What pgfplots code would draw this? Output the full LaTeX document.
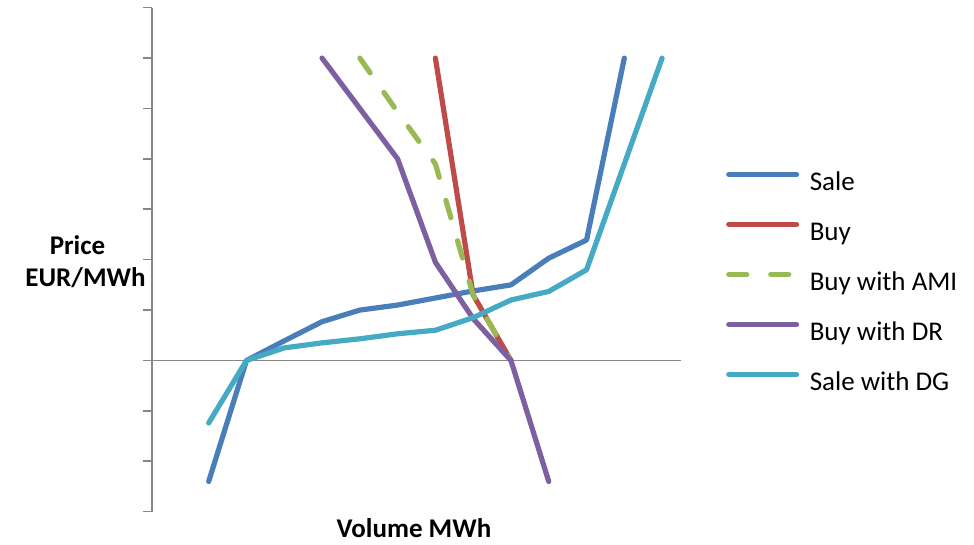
\documentclass[border=0pt]{standalone}
\usepackage{pgfplots}
\pgfplotsset{compat=1.18}
\usepackage{fontspec}
\setmainfont{Carlito}

\definecolor{axgray}{HTML}{878787}
\definecolor{cSale}{HTML}{4A7EBB}
\definecolor{cBuy}{HTML}{BE4B48}
\definecolor{cAMI}{HTML}{98B954}
\definecolor{cDR}{HTML}{7D60A0}
\definecolor{cDG}{HTML}{46AAC5}

\begin{document}
\begin{tikzpicture}
\path[use as bounding box] (0,0) rectangle (487pt,272.5pt);

\begin{axis}[
  at={(76pt,16.65pt)}, anchor=south west,
  scale only axis, width=264.5pt, height=252pt,
  xmin=-0.5, xmax=13.5, ymin=-3, ymax=7,
  axis x line=middle, axis y line=left,
  axis line style={draw=axgray, line width=0.8pt, -},
  xtick=\empty, ytick={-3,...,7}, yticklabels={},
  tick align=outside, major tick length=4.5pt,
  ytick style={draw=axgray, line width=0.8pt},
  clip=false,
  every axis plot/.append style={line width=2.6pt, line join=round, line cap=round},
  legend cell align=left,
  legend image code/.code={\draw[#1] (0pt,4.5pt) -- (33.9pt,4.5pt);},
  legend style={draw=none, fill=none, inner sep=0pt,
    at={(1.0846,0.678)}, anchor=north west,
    font=\fontsize{13.5}{16}\selectfont, row sep=12pt,
    nodes={inner sep=0pt, text height=10pt, text depth=3pt},
    /tikz/every odd column/.append style={column sep=5.3pt}},
]

% Sale
\addplot[cSale] coordinates {
  (1,-2.4) (2,0) (3,0.39) (4,0.77) (5,1.0) (6,1.1) (7,1.24)
  (8,1.38) (9,1.5) (10,2.03) (11,2.39) (12,6.0)};
\addlegendentry{Sale}

% Buy
\addplot[cBuy] coordinates {(7,6.0) (8,1.3) (9,0)};
\addlegendentry{Buy}

% Buy with AMI
\addplot[cAMI, dash pattern=on 9pt off 12pt] coordinates {
  (5,6.0) (6,4.93) (7,3.9) (8,1.3) (9,0)};
\addlegendentry{Buy with AMI}

% Buy with DR
\addplot[cDR] coordinates {
  (4,6.0) (5,5.0) (6,4.0) (7,1.95) (8,0.83) (9,0) (10,-2.4)};
\addlegendentry{Buy with DR}

% Sale with DG
\addplot[cDG] coordinates {
  (1,-1.24) (2,0) (3,0.25) (4,0.35) (5,0.43) (6,0.53) (7,0.6)
  (8,0.85) (9,1.2) (10,1.37) (11,1.8) (12,3.9) (13,6.0)};
\addlegendentry{Sale with DG}

\end{axis}

\node[anchor=base, font=\bfseries\fontsize{13.5}{16}\selectfont] at (38.75pt,145pt) {Price};
\node[anchor=base, font=\bfseries\fontsize{13.5}{16}\selectfont] at (42.75pt,129pt) {EUR/MWh};
\node[anchor=base, font=\bfseries\fontsize{13.5}{16}\selectfont] at (207pt,3.5pt) {Volume MWh};
\end{tikzpicture}
\end{document}
